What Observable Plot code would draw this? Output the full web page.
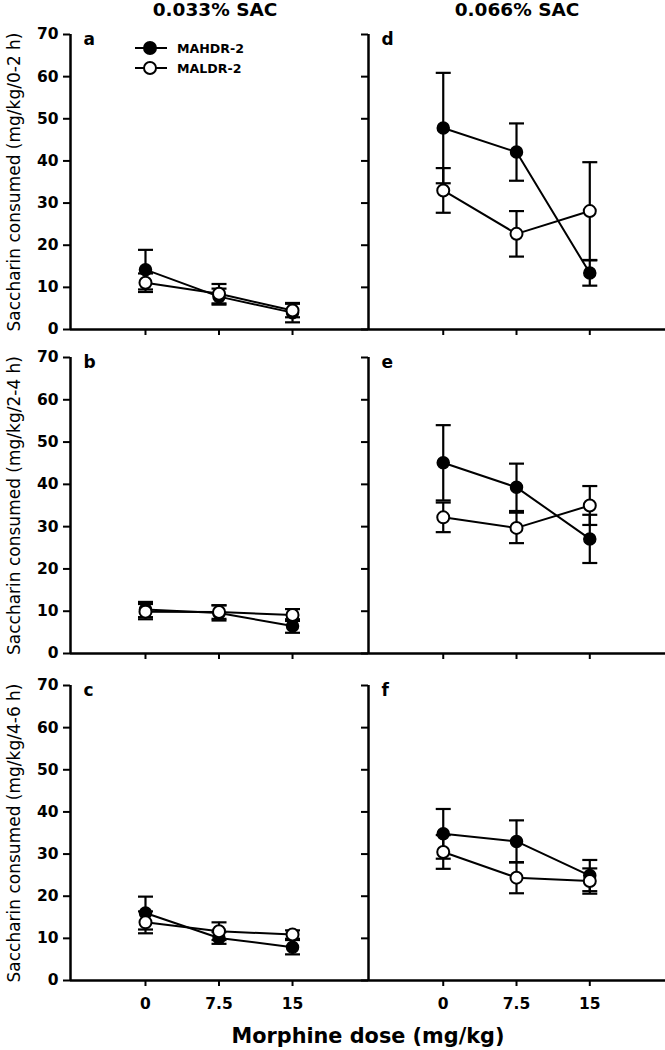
<!DOCTYPE html>
<html>
<head>
<meta charset="utf-8">
<script src="https://cdn.jsdelivr.net/npm/d3@7"></script>
<script src="https://cdn.jsdelivr.net/npm/@observablehq/plot@0.6"></script>
<style>
  html, body { margin: 0; padding: 0; background: #fff; }
  #root { position: relative; width: 665px; height: 1050px; font-family: 'DejaVu Sans', sans-serif; }
  .pane { position: absolute; }
  .pane svg { overflow: visible; background: transparent; }
  .ttl { position: absolute; font-weight: bold; line-height: 1; white-space: nowrap; transform: translateX(-50%); }
</style>
</head>
<body>
<div id="root"></div>
<script>
// ---------------- data ----------------
const doses = [0, 7.5, 15];
const groups = ["MAHDR-2", "MALDR-2"];
const panelLetters = ["a", "b", "c", "d", "e", "f"];
const concLabels = ["0.033% SAC", "0.066% SAC"];
const intervalLabels = [
  "Saccharin consumed (mg/kg/0-2 h)",
  "Saccharin consumed (mg/kg/2-4 h)",
  "Saccharin consumed (mg/kg/4-6 h)"
];
const yTicks = [0, 10, 20, 30, 40, 50, 60, 70];
const xLabel = "Morphine dose (mg/kg)";

// panel order a,b,c (0.033%) then d,e,f (0.066%); values at doses 0, 7.5, 15
const mahdrMean = [
  [14.2, 7.8, 4.0],
  [10.4, 9.6, 6.5],
  [16.0, 10.1, 7.9],
  [47.8, 42.1, 13.4],
  [45.1, 39.3, 27.1],
  [34.8, 33.0, 24.9]
];
const mahdrSem = [
  [4.7, 1.9, 2.3],
  [1.8, 1.8, 1.6],
  [3.9, 1.4, 1.7],
  [13.1, 6.8, 3.0],
  [8.9, 5.6, 5.7],
  [5.9, 5.0, 3.7]
];
const maldrMean = [
  [11.1, 8.5, 4.5],
  [9.9, 9.8, 9.1],
  [13.8, 11.7, 10.9],
  [33.0, 22.7, 28.1],
  [32.2, 29.7, 35.0],
  [30.5, 24.4, 23.6]
];
const maldrSem = [
  [2.2, 2.3, 1.6],
  [1.8, 1.6, 1.4],
  [2.6, 2.1, 1.0],
  [5.3, 5.4, 11.6],
  [3.5, 3.6, 4.6],
  [4.0, 3.7, 3.0]
];

// ---------------- layout ----------------
const FONT = "'DejaVu Sans', sans-serif";
const xDomain = [-7.65, 22.75];
const rowsLayout = [
  {top: 0,   mT: 34, frameH: 295, mB: 8},
  {top: 330, mT: 27, frameH: 296, mB: 8},
  {top: 660, mT: 25, frameH: 295, mB: 34}
];
const colsLayout = [
  {left: 0,   width: 368, mL: 70},
  {left: 358, width: 307, mL: 10}
];

const capSymbol = {
  draw(ctx, size) {
    const r = Math.sqrt(size / Math.PI);
    ctx.moveTo(-r, 0);
    ctx.lineTo(r, 0);
  }
};

function rowsFor(i) {
  const out = [];
  doses.forEach((dose, j) => out.push({group: groups[0], dose, mean: mahdrMean[i][j], sem: mahdrSem[i][j]}));
  doses.forEach((dose, j) => out.push({group: groups[1], dose, mean: maldrMean[i][j], sem: maldrSem[i][j]}));
  return out;
}

const root = document.getElementById("root");

for (let c = 0; c < 2; c++) {
  for (let r = 0; r < 3; r++) {
    const i = c * 3 + r;
    const L = colsLayout[c], R = rowsLayout[r];
    const data = rowsFor(i);
    const showY = c === 0;
    const showX = r === 2;
    const marks = [
      Plot.axisY(yTicks, {
        tickSize: 7, tickPadding: 5, strokeWidth: 2,
        fontSize: 15.5, fontWeight: "bold",
        tickFormat: showY ? (d => d) : (() => ""),
        label: null
      }),
      Plot.axisX(doses, {
        tickSize: 6, tickPadding: 11, strokeWidth: 2,
        fontSize: 15.5, fontWeight: "bold",
        tickFormat: showX ? (d => d) : (() => ""),
        label: null
      }),
      Plot.ruleX([xDomain[0]], {y1: 0, y2: 70, strokeWidth: 2.5, stroke: "black"}),
      Plot.ruleY([0], {strokeWidth: 2.5, stroke: "black"}),
      // error bars
      Plot.ruleX(data, {x: "dose", y1: d => d.mean - d.sem, y2: d => d.mean + d.sem, stroke: "black", strokeWidth: 2.2}),
      Plot.dot(data, {x: "dose", y: d => d.mean + d.sem, symbol: capSymbol, r: 7.5, stroke: "black", strokeWidth: 2.2, fill: "none"}),
      Plot.dot(data, {x: "dose", y: d => d.mean - d.sem, symbol: capSymbol, r: 7.5, stroke: "black", strokeWidth: 2.2, fill: "none"}),
      // lines
      Plot.line(data, {x: "dose", y: "mean", z: "group", stroke: "black", strokeWidth: 2}),
      // markers
      Plot.dot(data.filter(d => d.group === groups[0]), {x: "dose", y: "mean", r: 6, fill: "black", stroke: "black", strokeWidth: 1.5}),
      Plot.dot(data.filter(d => d.group === groups[1]), {x: "dose", y: "mean", r: 6, fill: "white", stroke: "black", strokeWidth: 2}),
      // panel letter
      Plot.text([panelLetters[i]], {text: d => d, frameAnchor: "top-left", dx: 13, dy: -2, lineAnchor: "top", fontSize: 17, fontWeight: "bold", fill: "black"})
    ];
    if (showY) {
      marks.push(Plot.text([intervalLabels[r]], {text: d => d, frameAnchor: "left", rotate: -90, dx: -56, textAnchor: "middle", lineAnchor: "middle", fontSize: 17, fill: "black"}));
    }
    const chart = Plot.plot({
      width: L.width,
      height: R.mT + R.frameH + R.mB,
      marginLeft: L.mL, marginRight: 0, marginTop: R.mT, marginBottom: R.mB,
      x: {domain: xDomain},
      y: {domain: [0, 70]},
      style: {fontFamily: FONT, background: "transparent", color: "black", overflow: "visible"},
      marks
    });
    const pane = document.createElement("div");
    pane.className = "pane";
    pane.style.left = L.left + "px";
    pane.style.top = R.top + "px";
    pane.appendChild(chart);
    root.appendChild(pane);
  }
}

// column titles
[[concLabels[0], 215], [concLabels[1], 517]].forEach(([t, cx]) => {
  const d = document.createElement("div");
  d.className = "ttl";
  d.textContent = t;
  d.style.left = cx + "px";
  d.style.top = "1px";
  d.style.fontSize = "18.5px";
  root.appendChild(d);
});

// x axis title
{
  const d = document.createElement("div");
  d.className = "ttl";
  d.textContent = xLabel;
  d.style.left = "368px";
  d.style.top = "1026px";
  d.style.fontSize = "20.8px";
  root.appendChild(d);
}

// legend (inside panel a)
{
  const svg = d3.select(root).append("svg")
    .attr("width", 140).attr("height", 40)
    .style("position", "absolute").style("left", "130px").style("top", "38px")
    .style("overflow", "visible");
  groups.forEach((g, k) => {
    const y = 10 + k * 20;
    svg.append("line").attr("x1", 5).attr("x2", 37).attr("y1", y).attr("y2", y)
      .attr("stroke", "black").attr("stroke-width", 2);
    svg.append("circle").attr("cx", 20).attr("cy", y).attr("r", 6)
      .attr("fill", k === 0 ? "black" : "white").attr("stroke", "black").attr("stroke-width", 2);
    svg.append("text").attr("x", 47).attr("y", y).attr("dy", "0.36em")
      .attr("font-family", FONT).attr("font-weight", "bold").attr("font-size", 12.6)
      .text(g);
  });
}
</script>
</body>
</html>
